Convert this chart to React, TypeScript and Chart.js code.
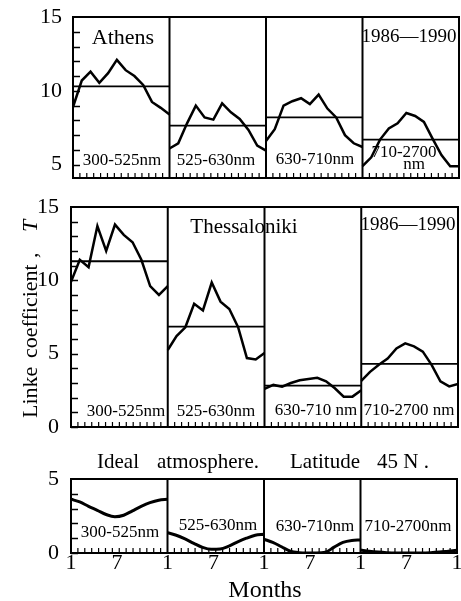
import React, { useEffect, useRef } from "react";
import { Chart, registerables } from "chart.js";
Chart.register(...registerables);

// ---------- data ----------
const months = [1, 2, 3, 4, 5, 6, 7, 8, 9, 10, 11, 12];
const bandLabels = ["300-525nm", "525-630nm", "630-710nm", "710-2700nm"];
const xTickValues = [0, 5.25, 11, 16.25, 22, 27.25, 33, 38.25, 44];
const xTickLabels = ["1", "7", "1", "7", "1", "7", "1", "7", "1"];

const athensTicks = [5, 10, 15];
const athens300 = [8.9, 10.7, 11.3, 10.55, 11.2, 12.1, 11.4, 11.0, 10.4, 9.25, 8.85, 8.4];
const athens525 = [6.1, 6.45, 7.8, 9.0, 8.2, 8.05, 9.15, 8.55, 8.1, 7.35, 6.3, 5.95];
const athens630 = [6.6, 7.4, 9.0, 9.3, 9.5, 9.1, 9.75, 8.8, 8.2, 7.0, 6.45, 6.2];
const athens710 = [4.9, 5.5, 6.7, 7.45, 7.8, 8.5, 8.3, 7.9, 6.75, 5.65, 4.9, 4.9];
const athensMeans = [10.3, 7.65, 8.2, 6.7];

const thessTicks = [0, 5, 10, 15];
const thess300 = [9.9, 11.4, 10.9, 13.7, 12.0, 13.8, 13.1, 12.6, 11.4, 9.6, 9.0, 9.6];
const thess525 = [5.25, 6.2, 6.8, 8.4, 7.95, 9.85, 8.55, 8.05, 6.8, 4.7, 4.6, 5.05];
const thess630 = [2.6, 2.87, 2.75, 3.0, 3.19, 3.28, 3.35, 3.12, 2.64, 2.07, 2.07, 2.5];
const thess710 = [3.15, 3.76, 4.24, 4.67, 5.36, 5.7, 5.5, 5.14, 4.24, 3.12, 2.77, 2.93];
const thessMeans = [11.3, 6.85, 2.82, 4.3];

const idealTicks = [0, 5];
const ideal300 = [3.63, 3.45, 3.15, 2.88, 2.6, 2.45, 2.55, 2.85, 3.15, 3.4, 3.57, 3.63];
const ideal525 = [1.37, 1.2, 0.95, 0.65, 0.38, 0.25, 0.27, 0.47, 0.75, 1.0, 1.2, 1.27];
const ideal630 = [0.93, 0.72, 0.42, 0.12, 0.02, 0.0, 0.0, 0.05, 0.4, 0.72, 0.85, 0.88];
const ideal710 = [0.2, 0.12, 0.06, 0.02, 0.0, 0.0, 0.0, 0.0, 0.02, 0.06, 0.12, 0.18];

// ---------- helpers ----------
const FONT = "'Liberation Serif', 'Times New Roman', serif";
const BAND = months.length - 1; // x-units per spectral band
const NB = 4;
const XMAX = BAND * NB;

type TextItem = { t: string; x: number; y: number; size: number; align?: CanvasTextAlign; italic?: boolean };

function series(values: number[], band: number) {
  return values.map((v, j) => ({ x: band * BAND + (months[j] - 1), y: v }));
}

function curveSets(list: number[][], smooth: boolean, width: number) {
  return list.map((vals, b) => ({
    data: series(vals, b),
    borderColor: "#000",
    borderWidth: width,
    pointRadius: 0,
    fill: false,
    tension: smooth ? 0.4 : 0,
    cubicInterpolationMode: smooth ? ("monotone" as const) : ("default" as const),
    borderJoinStyle: "miter" as const,
  }));
}

function meanSets(means: number[]) {
  return means.map((m, b) => ({
    data: [
      { x: b * BAND, y: m },
      { x: b * BAND + BAND, y: m },
    ],
    borderColor: "#000",
    borderWidth: 1.8,
    pointRadius: 0,
    fill: false,
  }));
}

function makePlugin(texts: TextItem[], yTitle: boolean) {
  return {
    id: "frameAndText",
    beforeDatasetsDraw(chart: any) {
      const { ctx } = chart;
      ctx.save();
      ctx.fillStyle = "#000";
      ctx.textBaseline = "middle";
      for (const it of texts) {
        ctx.font = `${it.italic ? "italic " : ""}${it.size}px ${FONT}`;
        ctx.textAlign = it.align || "center";
        ctx.fillText(it.t, it.x, it.y);
      }
      if (yTitle) {
        ctx.translate(37, 233);
        ctx.rotate(-Math.PI / 2);
        ctx.textBaseline = "alphabetic";
        ctx.textAlign = "left";
        ctx.font = `22px ${FONT}`;
        ctx.fillText("Linke", 0, 0);
        ctx.fillText("coefficient", 60, 0);
        ctx.fillText(",", 160, 0);
        ctx.font = `italic 22px ${FONT}`;
        ctx.fillText("T", 186, 0);
      }
      ctx.restore();
    },
    afterDatasetsDraw(chart: any) {
      const { ctx, chartArea: a } = chart;
      const x = chart.scales.x;
      const y = chart.scales.y;
      ctx.save();
      ctx.strokeStyle = "#000";
      const seg = (x1: number, y1: number, x2: number, y2: number) => {
        ctx.beginPath();
        ctx.moveTo(x1, y1);
        ctx.lineTo(x2, y2);
        ctx.stroke();
      };
      ctx.lineWidth = 1.5;
      for (let v = Math.ceil(y.min); v < y.max; v++) {
        const py = Math.round(y.getPixelForValue(v)) + 0.5;
        seg(a.left, py, a.left + 7, py);
      }
      ctx.lineWidth = 1.2;
      for (let b = 0; b < NB; b++) {
        for (let k = 1; k <= 13; k++) {
          const px = x.getPixelForValue(b * BAND + (k * BAND) / 14);
          seg(px, a.bottom, px, a.bottom - 5);
        }
      }
      ctx.lineWidth = 2;
      for (let b = 1; b < NB; b++) {
        const px = x.getPixelForValue(b * BAND);
        seg(px, a.top, px, a.bottom);
      }
      ctx.strokeRect(a.left, a.top, a.right - a.left, a.bottom - a.top);
      ctx.restore();
    },
  };
}

function yScale(min: number, max: number, ticks: number[], width: number, pad: number) {
  return {
    type: "linear" as const,
    min,
    max,
    afterFit: (s: any) => {
      s.width = width;
    },
    afterBuildTicks: (s: any) => {
      s.ticks = ticks.map((v) => ({ value: v }));
    },
    grid: { display: false },
    border: { display: false },
    ticks: { padding: pad, color: "#000", font: { family: FONT, size: 22 } },
  };
}

const baseOptions = {
  animation: false as const,
  responsive: false,
  events: [] as any[],
  plugins: { legend: { display: false }, tooltip: { enabled: false } },
};

export default function App() {
  const c1 = useRef<HTMLCanvasElement>(null);
  const c2 = useRef<HTMLCanvasElement>(null);
  const c3 = useRef<HTMLCanvasElement>(null);

  useEffect(() => {
    const charts: Chart[] = [];

    charts.push(
      new Chart(c1.current!, {
        type: "line",
        data: {
          datasets: [
            ...curveSets([athens300, athens525, athens630, athens710], false, 2.5),
            ...meanSets(athensMeans),
          ] as any,
        },
        options: {
          ...baseOptions,
          layout: { padding: { top: 17, bottom: 22, left: 0, right: 21 } },
          scales: {
            x: { type: "linear", display: false, min: 0, max: XMAX },
            y: yScale(4.1, 15, athensTicks, 73, 3),
          },
        } as any,
        plugins: [
          makePlugin(
            [
              { t: "Athens", x: 123, y: 38, size: 22 },
              { t: "1986\u20141990", x: 409, y: 37, size: 19 },
              { t: bandLabels[0], x: 122, y: 161, size: 17 },
              { t: bandLabels[1], x: 216, y: 161, size: 17 },
              { t: bandLabels[2], x: 315, y: 160, size: 17 },
              { t: "710-2700", x: 404, y: 153, size: 17 },
              { t: "nm", x: 414, y: 165, size: 17 },
            ],
            false
          ),
        ],
      })
    );

    charts.push(
      new Chart(c2.current!, {
        type: "line",
        data: {
          datasets: [
            ...curveSets([thess300, thess525, thess630, thess710], false, 2.5),
            ...meanSets(thessMeans),
          ] as any,
        },
        options: {
          ...baseOptions,
          layout: { padding: { top: 22, bottom: 20, left: 0, right: 22 } },
          scales: {
            x: { type: "linear", display: false, min: 0, max: XMAX },
            y: yScale(0, 15, thessTicks, 71, 4),
          },
        } as any,
        plugins: [
          makePlugin(
            [
              { t: "Thessaloniki", x: 244, y: 42, size: 21 },
              { t: "1986\u20141990", x: 408, y: 40, size: 19 },
              { t: "300-525nm", x: 126, y: 227, size: 17 },
              { t: "525-630nm", x: 216, y: 227, size: 17 },
              { t: "630-710 nm", x: 316, y: 226, size: 17 },
              { t: "710-2700 nm", x: 409, y: 226, size: 17 },
            ],
            true
          ),
        ],
      })
    );

    charts.push(
      new Chart(c3.current!, {
        type: "line",
        data: {
          datasets: curveSets([ideal300, ideal525, ideal630, ideal710], true, 3) as any,
        },
        options: {
          ...baseOptions,
          layout: { padding: { top: 44, bottom: 0, left: 0, right: 23 } },
          scales: {
            x: {
              type: "linear",
              min: 0,
              max: XMAX,
              afterFit: (s: any) => {
                s.height = 48;
              },
              afterBuildTicks: (s: any) => {
                s.ticks = xTickValues.map((v) => ({ value: v }));
              },
              grid: { display: false },
              border: { display: false },
              ticks: {
                autoSkip: false,
                maxRotation: 0,
                minRotation: 0,
                padding: -11,
                color: "#000",
                font: { family: FONT, size: 22 },
                callback: (_v: any, i: number) => xTickLabels[i],
              },
            },
            y: yScale(0, 5, idealTicks, 71, 4),
          },
        } as any,
        plugins: [
          makePlugin(
            [
              { t: "Ideal", x: 97, y: 27, size: 21, align: "left" },
              { t: "atmosphere.", x: 157, y: 27, size: 21, align: "left" },
              { t: "Latitude", x: 290, y: 27, size: 21, align: "left" },
              { t: "45 N .", x: 377, y: 27, size: 21, align: "left" },
              { t: bandLabels[0], x: 120, y: 98, size: 17 },
              { t: bandLabels[1], x: 218, y: 91, size: 17 },
              { t: bandLabels[2], x: 315, y: 92, size: 17 },
              { t: bandLabels[3], x: 408, y: 92, size: 17 },
              { t: "Months", x: 265, y: 156, size: 24 },
            ],
            false
          ),
        ],
      })
    );

    return () => charts.forEach((c) => c.destroy());
  }, []);

  const cs = (top: number): React.CSSProperties => ({ position: "absolute", left: 0, top });

  return (
    <div
      style={{
        position: "absolute",
        left: 0,
        top: 0,
        width: 461,
        height: 601,
        overflow: "hidden",
        background: "#fff",
      }}
    >
      <canvas ref={c1} width={480} height={200} style={cs(0)} />
      <canvas ref={c2} width={480} height={262} style={cs(185)} />
      <canvas ref={c3} width={480} height={166} style={cs(435)} />
    </div>
  );
}
